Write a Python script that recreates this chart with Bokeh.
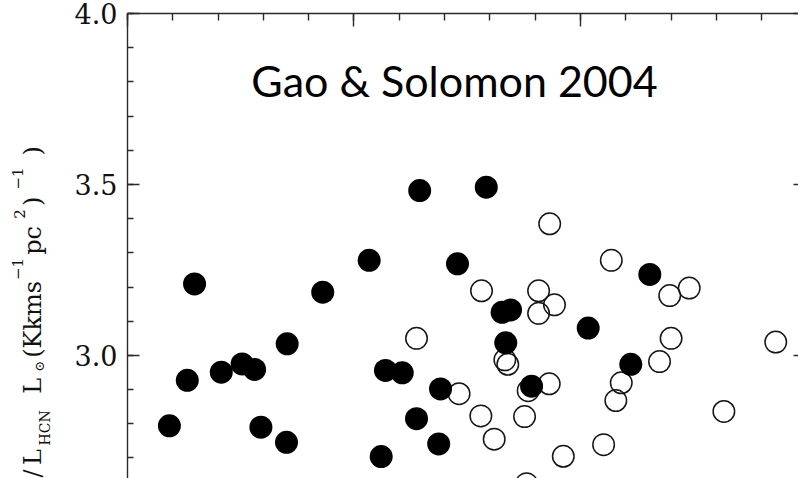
import math
from bokeh.plotting import figure
from bokeh.layouts import row
from bokeh.models import (LinearAxis, SingleIntervalTicker, PrintfTickFormatter,
                          Range1d, Label, ColumnDataSource)
from bokeh.core.properties import value
from bokeh.embed import file_html
from bokeh.resources import INLINE

# ---- data ----
filled_x = [9.185, 9.264, 9.296, 9.414, 9.506, 9.561, 9.589, 9.705, 9.702, 9.862,
            10.067, 10.290, 10.584, 10.457, 10.139, 10.213, 10.382, 10.276, 10.374,
            10.120, 11.306, 10.654, 10.691, 11.034, 10.670, 11.222, 10.784]
filled_y = [2.794, 2.927, 3.209, 2.951, 2.975, 2.959, 2.790, 3.034, 2.746, 3.185,
            3.278, 3.482, 3.492, 3.268, 2.956, 2.949, 2.902, 2.815, 2.741,
            2.704, 3.237, 3.126, 3.133, 3.080, 3.037, 2.974, 2.910]

open_x = [10.563, 10.276, 10.464, 10.560, 10.619, 10.864, 11.136, 10.815, 10.885,
          10.815, 11.394, 11.480, 11.400, 11.862, 11.349, 10.666, 10.679, 10.862,
          10.769, 11.180, 11.156, 10.753, 11.633, 11.102, 10.924, 10.762]
open_y = [3.189, 3.050, 2.888, 2.823, 2.755, 3.385, 3.278, 3.189, 3.148,
          3.123, 3.175, 3.197, 3.050, 3.039, 2.982, 2.987, 2.974, 2.917,
          2.897, 2.920, 2.868, 2.821, 2.836, 2.739, 2.705, 2.625]

x_limits = [9.0, 11.9625]
y_limits = [2.64, 4.0]
y_tick_step = 0.5
x_tick_step = 1.0
title_text = "Gao & Solomon 2004"
label_pieces = ["/", "L", "HCN", "L", "\u2299", "(Kkms", "\u22121", "pc", "2", ")", "\u22121", ")"]

H = 478
LEFT_W = 60          # width of the strip that holds the rotated y label
MAIN_W = 798 - LEFT_W
FL = 127             # frame left on the full canvas

# ---- left strip with the rotated axis title ----
lab = figure(width=LEFT_W, height=H, output_backend="svg", toolbar_location=None,
             x_range=Range1d(0, LEFT_W), y_range=Range1d(0, H),
             x_axis_location=None, y_axis_location=None,
             min_border_left=0, min_border_right=0, min_border_top=0, min_border_bottom=0)
lab.outline_line_color = None
lab.grid.visible = False
lab.background_fill_color = "white"
lab.border_fill_color = "white"

# (anchor x, start y on the canvas measured from top, font size px)
piece_style = [(32, 477, 24), (32, 464, 24), (44, 444, 14), (32, 391, 24), (39, 368, 13),
               (32, 354, 24), (17, 274, 15), (32, 248, 24), (19, 211, 15), (32, 198, 24),
               (17, 181, 15), (32, 146, 24)]
src = ColumnDataSource(dict(
    x=[s[0] for s in piece_style],
    y=[H - s[1] for s in piece_style],
    t=label_pieces,
    fs=[f"{s[2]}px" for s in piece_style],
))
lab.text(x="x", y="y", text="t", source=src, angle=math.pi / 2,
         text_font=value("DejaVu Serif"), text_font_size="fs",
         text_align="left", text_baseline="alphabetic", text_color="#111111")

# ---- main plot ----
p = figure(width=MAIN_W, height=H, output_backend="svg", toolbar_location=None,
           x_range=Range1d(*x_limits), y_range=Range1d(*y_limits),
           x_axis_location="above", y_axis_location="left",
           min_border_left=FL - LEFT_W, min_border_top=13, min_border_right=0,
           min_border_bottom=0)
p.outline_line_color = None
p.background_fill_color = "white"
p.border_fill_color = "white"
p.xgrid.grid_line_color = None
p.ygrid.grid_line_color = None

AX = "#2a2a2a"
LW = 1.4

ya = p.yaxis[0]
ya.ticker = SingleIntervalTicker(interval=y_tick_step, num_minor_ticks=5)
ya.formatter = PrintfTickFormatter(format="%.1f")
ya.axis_line_color = AX
ya.axis_line_width = LW
ya.major_tick_line_color = AX
ya.major_tick_line_width = LW
ya.minor_tick_line_color = AX
ya.minor_tick_line_width = LW
ya.major_tick_in = 12
ya.major_tick_out = 0
ya.minor_tick_in = 6
ya.minor_tick_out = 0
ya.major_label_text_font = "DejaVu Serif"
ya.major_label_text_font_size = "27px"
ya.major_label_text_color = "#111111"
ya.major_label_standoff = 10

xa = p.xaxis[0]
xa.ticker = SingleIntervalTicker(interval=x_tick_step, num_minor_ticks=5)
xa.formatter = PrintfTickFormatter(format="")
xa.axis_line_color = AX
xa.axis_line_width = LW
xa.major_tick_line_color = AX
xa.major_tick_line_width = LW
xa.minor_tick_line_color = AX
xa.minor_tick_line_width = LW
xa.major_tick_in = 13
xa.major_tick_out = 0
xa.minor_tick_in = 7
xa.minor_tick_out = 0
xa.major_label_text_font_size = "0px"
xa.major_label_standoff = 0

ra = LinearAxis(ticker=SingleIntervalTicker(interval=y_tick_step, num_minor_ticks=0),
                formatter=PrintfTickFormatter(format=""))
ra.axis_line_color = None
ra.major_tick_line_color = AX
ra.major_tick_line_width = LW
ra.minor_tick_line_color = None
ra.major_tick_in = 5
ra.major_tick_out = 0
ra.major_label_text_font_size = "0px"
ra.major_label_standoff = 0
p.add_layout(ra, "right")

# ---- markers ----
p.scatter(open_x, open_y, marker="circle", size=21.5, fill_color=None,
          line_color="#151515", line_width=1.5)
p.scatter(filled_x, filled_y, marker="circle", size=23, fill_color="black",
          line_color=None)

# ---- title ----
p.add_layout(Label(x=454 - FL, y=H - 80, x_units="screen", y_units="screen",
                   text=title_text, text_font="Lato", text_font_size="43px",
                   text_align="center", text_baseline="alphabetic", text_color="black"))

layout = row(lab, p, spacing=0)
open("out.html", "w").write(file_html(layout, INLINE))
